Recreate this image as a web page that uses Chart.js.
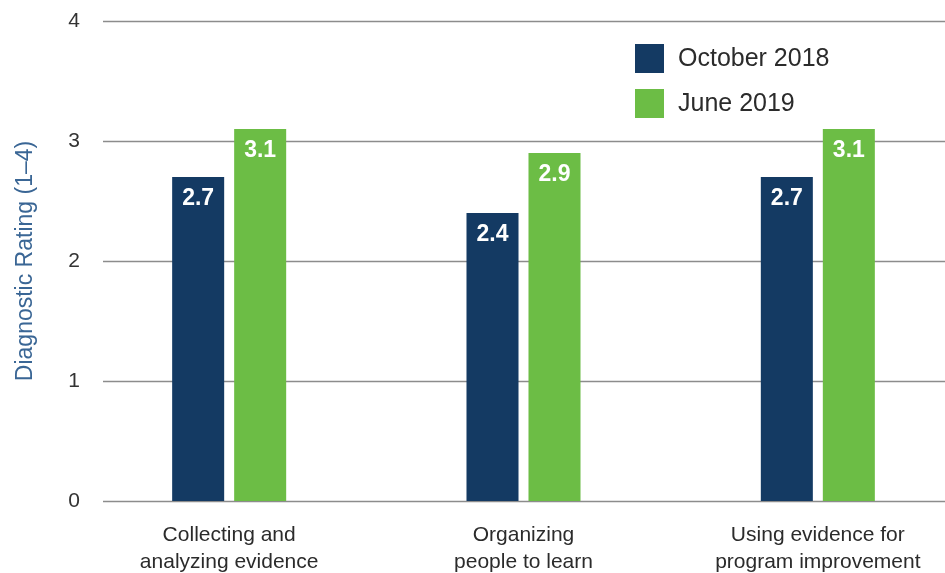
<!DOCTYPE html>
<html>
<head>
<meta charset="utf-8">
<script src="https://cdn.jsdelivr.net/npm/chart.js@4.4.1/dist/chart.umd.min.js"></script>
<style>
  html, body { margin: 0; padding: 0; background: #fff; overflow: hidden; }
  #wrap { width: 965px; height: 573px; position: relative; }
</style>
</head>
<body>
<div id="wrap"><canvas id="chart"></canvas></div>
<script>
// Data
const categories = [
  ['Collecting and', 'analyzing evidence'],
  ['Organizing', 'people to learn'],
  ['Using evidence for', 'program improvement']
];
const seriesNames = ['October 2018', 'June 2019'];
const october2018 = [2.7, 2.4, 2.7];
const june2019 = [3.1, 2.9, 3.1];
const yTicks = [0, 1, 2, 3, 4];

const NAVY = '#143a63';
const GREEN = '#6cbd45';
const FONT = "'Liberation Sans', Arial, Helvetica, sans-serif";

// horizontal grid lines, starting a bit right of the axis
const gridPlugin = {
  id: 'grid',
  beforeDatasetsDraw(chart) {
    const { ctx, chartArea, scales: { y } } = chart;
    ctx.save();
    ctx.strokeStyle = '#8c8c8c';
    ctx.lineWidth = 1.3;
    yTicks.forEach(v => {
      const py = Math.round(y.getPixelForValue(v)) + 0.5;
      ctx.beginPath();
      ctx.moveTo(chartArea.left + 21, py);
      ctx.lineTo(chart.width, py);
      ctx.stroke();
    });
    ctx.restore();
  }
};

// white value labels inside top of bars
const valuePlugin = {
  id: 'values',
  afterDatasetsDraw(chart) {
    const { ctx } = chart;
    ctx.save();
    ctx.fillStyle = '#fff';
    ctx.font = `bold 23px ${FONT}`;
    ctx.textAlign = 'center';
    ctx.textBaseline = 'middle';
    chart.data.datasets.forEach((ds, i) => {
      chart.getDatasetMeta(i).data.forEach((bar, j) => {
        ctx.fillText(ds.data[j].toFixed(1), bar.x, bar.y + 22);
      });
    });
    ctx.restore();
  }
};

// legend box in the upper right
const legendPlugin = {
  id: 'customLegend',
  afterDraw(chart) {
    const { ctx } = chart;
    ctx.save();
    ctx.font = `25px ${FONT}`;
    ctx.textBaseline = 'middle';
    ctx.textAlign = 'left';
    chart.data.datasets.forEach((ds, i) => {
      const top = 44 + i * 45;
      ctx.fillStyle = ds.backgroundColor;
      ctx.fillRect(635, top, 29, 29);
      ctx.fillStyle = '#2b2b2b';
      ctx.fillText(ds.label, 678, top + 15);
    });
    ctx.restore();
  }
};

new Chart(document.getElementById('chart'), {
  type: 'bar',
  data: {
    labels: categories,
    datasets: [
      { label: seriesNames[0], data: october2018, backgroundColor: NAVY },
      { label: seriesNames[1], data: june2019, backgroundColor: GREEN }
    ]
  },
  options: {
    responsive: true,
    maintainAspectRatio: false,
    animation: false,
    layout: { padding: { top: 21, left: 12, right: 0, bottom: 0 } },
    datasets: {
      bar: { barPercentage: 0.839, categoryPercentage: 0.4213 }
    },
    plugins: { legend: { display: false }, tooltip: { enabled: false } },
    scales: {
      x: {
        grid: { display: false, drawTicks: false },
        border: { display: false },
        ticks: {
          color: '#2b2b2b',
          font: { family: FONT, size: 21, lineHeight: 1.27 },
          padding: 21,
          maxRotation: 0,
          autoSkip: false
        },
        afterFit(scale) { scale.height = 72; }
      },
      y: {
        min: 0,
        max: 4,
        grid: { display: false, drawTicks: false },
        border: { display: false },
        ticks: {
          stepSize: 1,
          color: '#333',
          font: { family: FONT, size: 21 },
          padding: 2
        },
        title: {
          display: true,
          text: 'Diagnostic Rating (1–4)',
          color: '#3a6695',
          font: { family: FONT, size: 23 },
          padding: 0
        },
        afterFit(scale) { scale.width = 70; }
      }
    }
  },
  plugins: [gridPlugin, valuePlugin, legendPlugin]
});
</script>
</body>
</html>
